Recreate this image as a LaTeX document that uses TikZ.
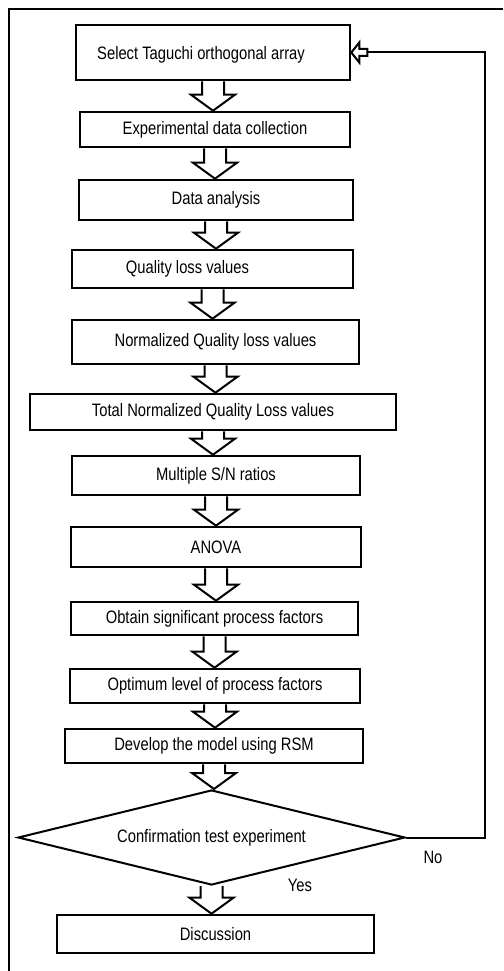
\documentclass[tikz,border=0pt]{standalone}
\usepackage{fontspec}
\setmainfont{Liberation Sans}[FakeStretch=0.82]
\usetikzlibrary{positioning, shapes.geometric, calc}

\newcommand\flowarrow[2]{%
  \draw[hollow] let \p1=(#1.south), \p2=(#2.north) in
    (\x1-11pt,\y1) -- (\x1-11pt,\y2+16pt) -- (\x1-22pt,\y2+16pt) -- (\x1,\y2)
    -- (\x1+22pt,\y2+16pt) -- (\x1+11pt,\y2+16pt) -- (\x1+11pt,\y1);}

\begin{document}
\begin{tikzpicture}[x=1pt, y=-1pt,
        font=\fontsize{18}{21}\selectfont,
        box/.style = {draw, line width=2.6pt, inner sep=0pt},
        check/.style = {draw, diamond, aspect=4, line width=2pt, inner sep=0pt},
        hollow/.style = {draw, fill=white, line width=2pt},
        link/.style = {draw, line width=2pt},
        ]
        \useasboundingbox (0,0) rectangle (503,971);
        \draw[link] (9,971) -- (9,9) -- (503,9);

        \node[box, minimum width=274, minimum height=55,
              label={[xshift=-12pt, yshift=-2pt]center:Select Taguchi orthogonal array}] (sel) at (213,52.5) {};
        \node[box, minimum width=270, minimum height=35] (coll) at (215,129.5) {Experimental data collection};
        \node[box, minimum width=274, minimum height=40] (anal) at (216,200) {Data analysis};
        \node[box, minimum width=281, minimum height=38,
              label={[xshift=-25pt]center:Quality loss values}] (qloss) at (212.5,269) {};
        \node[box, minimum width=287, minimum height=44] (nqloss) at (215.5,342) {Normalized Quality loss values};
        \node[box, minimum width=366, minimum height=36] (tnqloss) at (213,412) {Total Normalized Quality Loss values};
        \node[box, minimum width=288, minimum height=39] (snr) at (216,475.5) {Multiple S/N ratios};
        \node[box, minimum width=290, minimum height=40] (anova) at (216,547) {ANOVA};
        \node[box, minimum width=287, minimum height=33] (signif) at (214.5,618.5) {Obtain significant process factors};
        \node[box, minimum width=290, minimum height=34] (optim) at (215,686) {Optimum level of process factors};
        \node[box, minimum width=298, minimum height=34] (rsm) at (214,746) {Develop the model using RSM};
        \node[check, minimum width=387, minimum height=95] (conf) at (211.5,837.5) {Confirmation test experiment};
        \node[box, minimum width=317, minimum height=38] (disc) at (215.5,934) {Discussion};

        \node (yes) at (300,885) {Yes};
        \node (no) at (433,857) {No};

        \flowarrow{sel}{coll}
        \flowarrow{coll}{anal}
        \flowarrow{anal}{qloss}
        \flowarrow{qloss}{nqloss}
        \flowarrow{nqloss}{tnqloss}
        \flowarrow{tnqloss}{snr}
        \flowarrow{snr}{anova}
        \flowarrow{anova}{signif}
        \flowarrow{signif}{optim}
        \flowarrow{optim}{rsm}
        \flowarrow{rsm}{conf}
        \flowarrow{conf}{disc}

        % back to the start
        \draw[link] (conf.east) -| ($(sel.east)+(134,0)$) -- ($(sel.east)+(16,0)$);
        \draw[hollow] (sel.east) -- ++(8,-10) -- ++(0,6.5) -- ++(8,0) -- ++(0,7)
            -- ++(-8,0) -- ++(0,6.5) -- cycle;
    \end{tikzpicture}
\end{document}
